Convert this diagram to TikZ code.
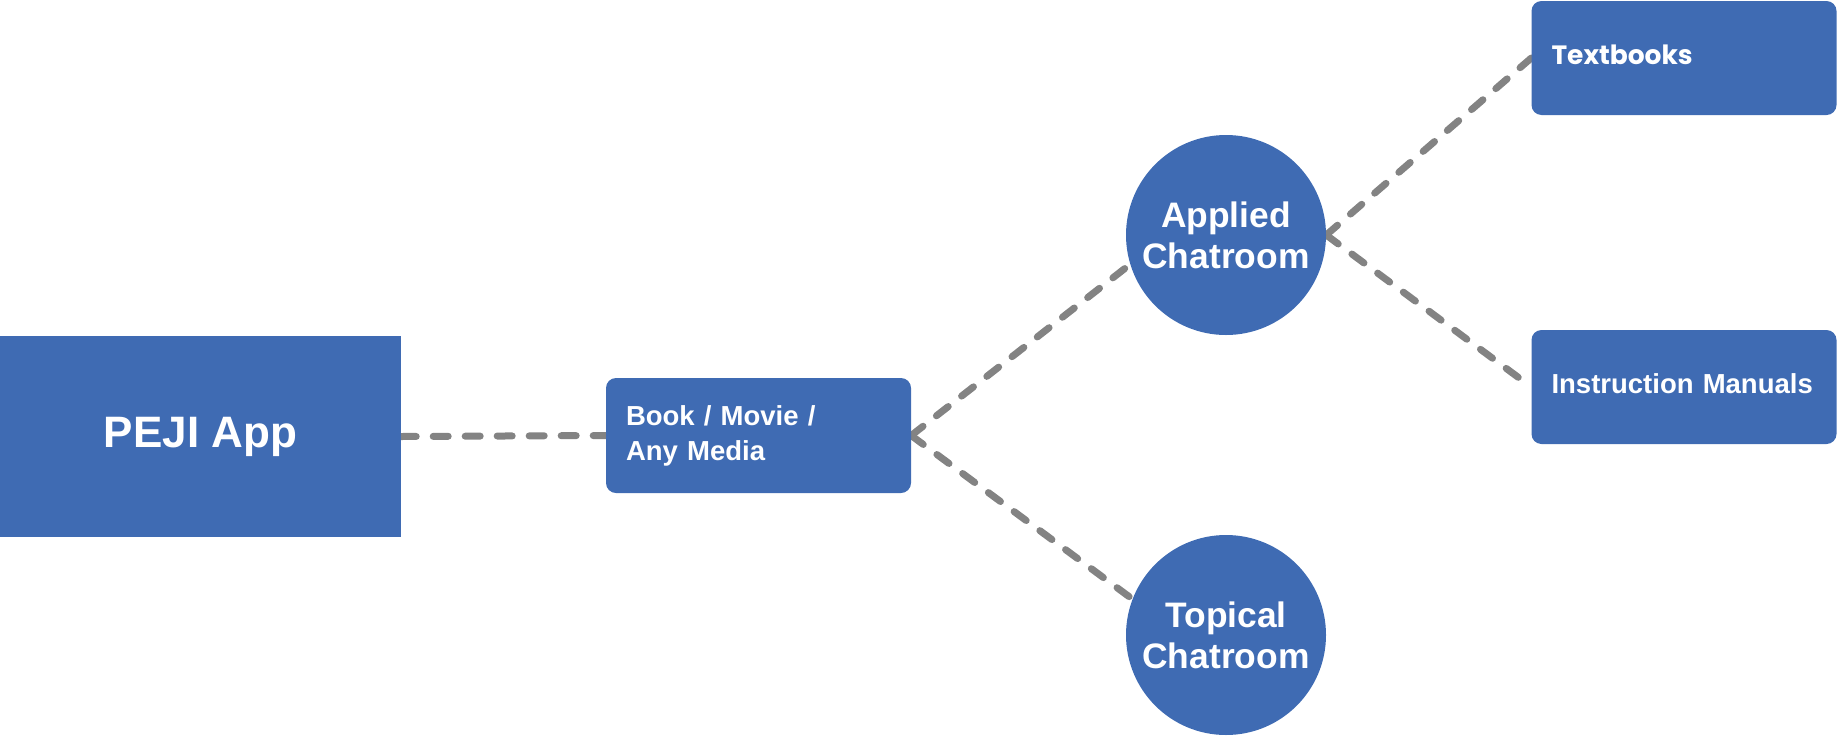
\documentclass[tikz,border=0pt]{standalone}
\usepackage{fontspec}
\setmainfont{Liberation Sans}
\newfontfamily\popfont{Poppins}
\usetikzlibrary{backgrounds}
\definecolor{boxblue}{HTML}{3F6BB3}
\definecolor{linegray}{HTML}{838383}
\tikzset{
 box/.style={draw=none, fill=boxblue, text=white, inner sep=0pt},
 rbox/.style={box, rounded corners=10pt, minimum height=115pt, text width=265pt, inner xsep=20pt, align=left},
 circ/.style={box, circle, minimum size=200pt, align=center, font={\fontsize{35.4}{41}\selectfont\bfseries}},
 conn/.style={draw=linegray, line width=7pt, dash pattern=on 15pt off 17pt, line cap=round},
}
\begin{document}
\begin{tikzpicture}[x=1pt,y=-1pt]
\useasboundingbox (0,0) rectangle (1837,737);
\node[box, minimum width=401pt, minimum height=201pt, font={\fontsize{44}{53}\selectfont\bfseries}] (peji) at (200.5,436.5) {PEJI App};
\node[rbox, font={\fontsize{27.5}{35}\selectfont\bfseries}] (media) at (758.5,435.5) {Book / Movie /\\Any Media};
\node[circ] (applied) at (1226,235) {Applied\\Chatroom};
\node[circ] (topical) at (1226,635) {Topical\\Chatroom};
\node[rbox, minimum height=114pt, text depth=6pt, font={\popfont\fontsize{26.5}{34}\selectfont\bfseries}] (textbooks) at (1684,58) {Textbooks};
\node[rbox, minimum height=114pt, text depth=6pt, font={\fontsize{27.5}{35}\selectfont\bfseries}] (manuals) at (1684,387) {Instruction Manuals};
\begin{scope}[on background layer]
\draw[conn] (peji.east) -- (media.west);
\draw[conn] (media.east) -- (applied.197);
\draw[conn] (media.east) -- (topical.159);
\draw[conn] (applied.east) -- (textbooks.west);
\draw[conn] (applied.east) -- (manuals.west);
\end{scope}
\end{tikzpicture}
\end{document}
